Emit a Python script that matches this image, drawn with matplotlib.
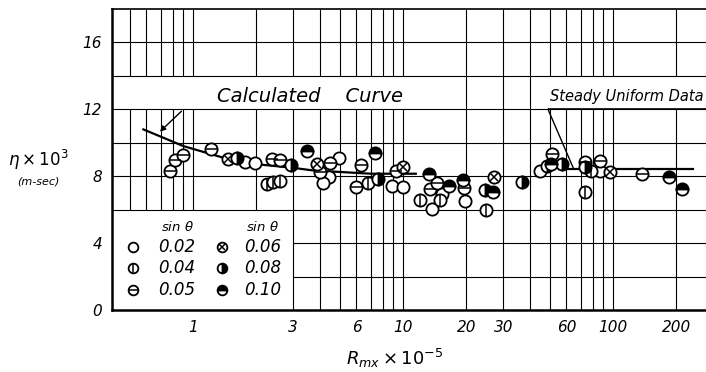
import matplotlib
matplotlib.use("Agg")
import matplotlib.pyplot as plt
import numpy as np

# Rmx x 1e-5 and n x 1e3 readings, grouped by slope (sin theta)
x_002 = [1.77, 1.97, 4.97, 4.46, 4.17, 8.84, 10.0, 15.3, 13.7, 19.7, 44.9, 86.7]
y_002 = [8.83, 8.77, 9.07, 7.98, 7.58, 7.40, 7.38, 6.94, 6.05, 6.51, 8.29, 8.33]

x_004 = [2.24, 2.41, 2.58, 6.84, 12.05, 15.0, 24.8, 78.3, 73.6]
y_004 = [7.54, 7.68, 7.74, 7.58, 6.55, 6.59, 5.99, 8.29, 7.08]

x_005 = [0.777, 0.821, 0.893, 1.22, 2.37, 2.60, 4.03, 4.49, 6.29, 5.97, 9.26,
         13.45, 14.47, 19.5, 51.1, 73.6, 86.7, 138]
y_005 = [8.29, 8.97, 9.27, 9.63, 9.03, 8.97, 8.23, 8.77, 8.67, 7.38, 8.29,
         7.24, 7.58, 7.30, 9.33, 8.83, 8.89, 8.13]

x_006 = [1.47, 3.88, 10.0, 27.1, 96.8]
y_006 = [9.03, 8.73, 8.53, 7.93, 8.23]

x_008 = [1.61, 2.92, 7.63, 24.6, 36.7, 48.3, 57.4, 73.6]
y_008 = [9.09, 8.69, 7.84, 7.18, 7.64, 8.63, 8.73, 8.53]

x_010 = [3.5, 7.35, 13.35, 16.6, 19.2, 26.9, 50.4, 184, 212]
y_010 = [9.52, 9.39, 8.13, 7.44, 7.78, 7.04, 8.73, 7.93, 7.24]

# calculated curve and steady uniform flow level
calc_x = [0.58, 0.9, 1.4, 1.9, 3.0, 3.7, 7.0, 11.5]
calc_y = [10.8, 9.8, 9.1, 8.75, 8.5, 8.35, 8.15, 8.15]
steady_x = [55, 240]
steady_y = [8.45, 8.45]

slopes = ["0.02", "0.04", "0.05", "0.06", "0.08", "0.10"]
x_ticks = [1, 3, 6, 10, 20, 30, 60, 100, 200]
y_ticks = [0, 4, 8, 12, 16]


def points(ax, xs, ys, kind, ms):
    if kind in ("0.08", "0.10"):
        fill = "right" if kind == "0.08" else "top"
        ax.plot(xs, ys, "o", ms=ms, mfc="black", markerfacecoloralt="white",
                fillstyle=fill, mec="black", mew=1.3, zorder=4, clip_on=False)
    else:
        ax.plot(xs, ys, "o", ms=ms, mfc="white", mec="black", mew=1.3,
                zorder=4, clip_on=False)
    inner = {"0.04": "|", "0.05": "_", "0.06": "x", "0.10": "_"}.get(kind)
    if inner:
        s = ms * (0.7 if inner == "x" else 0.95)
        ax.plot(xs, ys, inner, ms=s, mec="black", mew=1.1, zorder=5,
                clip_on=False)


fig = plt.figure(figsize=(7.06, 3.72), dpi=100)
ax = fig.add_axes([0.1586, 0.1667, 0.8414, 0.8091])
xmin, xmax = 0.411, 277
ax.set_xscale("log")
ax.set_xlim(xmin, xmax)
ax.set_ylim(0, 18)

# hand-ruled grid: blank strip at 12-14 and a clear box for the key
lw = 0.8
minor = [m * 10.0 ** d for d in range(-1, 3) for m in range(1, 10)]
minor = [v for v in minor if xmin < v < xmax]
for v in minor:
    lo = 6 if v < 3 else 0
    ax.vlines(v, lo, 12, color="black", lw=lw, zorder=1)
    ax.vlines(v, 14, 18, color="black", lw=lw, zorder=1)
    if v in (20, 30, 40):
        ax.vlines(v, 12, 14, color="black", lw=lw, zorder=1)
for h in range(2, 18, 2):
    ax.hlines(h, 3 if h < 6 else xmin, xmax, color="black", lw=lw, zorder=1)

ax.spines["right"].set_visible(False)
for side in ("left", "bottom"):
    ax.spines[side].set_linewidth(1.8)
ax.spines["top"].set_linewidth(1.2)

ax.set_xticks(x_ticks)
ax.set_xticklabels([str(t) for t in x_ticks], fontstyle="italic", fontsize=11)
ax.xaxis.set_minor_locator(matplotlib.ticker.NullLocator())
ax.set_yticks(y_ticks)
ax.set_yticklabels([str(t) for t in y_ticks], fontstyle="italic", fontsize=11)
ax.tick_params(length=0, pad=7)

ax.plot(calc_x, calc_y, color="black", lw=1.6, zorder=3)
ax.plot(steady_x, steady_y, color="black", lw=1.6, zorder=3)

series = [(x_002, y_002), (x_004, y_004), (x_005, y_005),
          (x_006, y_006), (x_008, y_008), (x_010, y_010)]
for kind, (xs, ys) in zip(slopes, series):
    points(ax, xs, ys, kind, 8.8)

# labels with leaders
ax.text(1.3, 12.75, "Calculated    Curve", fontsize=14, fontstyle="italic",
        va="center", ha="left", zorder=6)
ax.annotate("", xy=(0.68, 10.55), xytext=(0.9, 12.0),
            arrowprops=dict(arrowstyle="-|>", color="black", lw=1.0,
                            mutation_scale=8), zorder=6)
ax.text(50, 12.75, "Steady Uniform Data", fontsize=10.5, fontstyle="italic",
        va="center", ha="left", zorder=6)
ax.hlines(12, 49, xmax, color="black", lw=1.2, zorder=2)
ax.plot([49, 64.6], [12, 8.5], color="black", lw=1.0, zorder=3)

# key
col_mark = [0.52, 1.37]
col_text = [0.84, 2.15]
rows = [3.75, 2.5, 1.19]
for c in range(2):
    ax.text(col_text[c], 4.95, r"sin $\theta$", fontsize=9.5, fontstyle="italic",
            ha="center", va="center")
    for r in range(3):
        kind = slopes[c * 3 + r]
        points(ax, [col_mark[c]], [rows[r]], kind, 7)
        ax.text(col_text[c], rows[r], kind, fontsize=12, fontstyle="italic",
                ha="center", va="center")

fig.text(38 / 706, 1 - 160 / 372, r"$\eta\times10^3$", fontsize=12,
         ha="center", va="center")
fig.text(38 / 706, 1 - 182 / 372, "(m-sec)", fontsize=8, fontstyle="italic",
         ha="center", va="center")
fig.text(395 / 706, 1 - 358 / 372, r"$R_{mx}\times10^{-5}$", fontsize=13,
         ha="center", va="center")

fig.savefig("out.png", dpi=100)
